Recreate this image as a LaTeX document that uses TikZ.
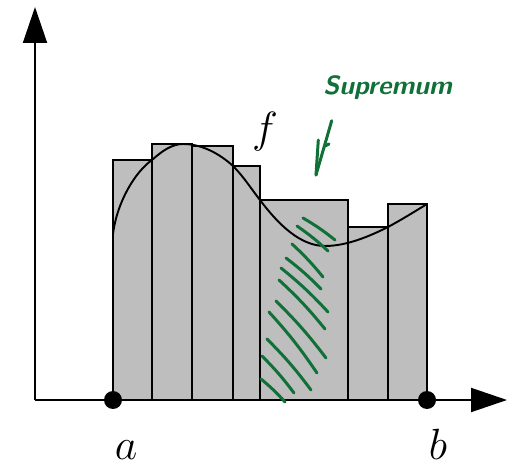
\documentclass[tikz,border=0pt]{standalone}
\usepackage{xcolor}
\usepackage{tikz}
\usetikzlibrary{arrows.meta, positioning}

\definecolor{barfill}{RGB}{190,190,190}
\definecolor{penink}{RGB}{16,112,56}

\begin{document}
\begin{tikzpicture}[
    x=0.02cm, y=-0.02cm,
    axis/.style={line width=1.1pt, -{Triangle[length=0.72cm, width=0.48cm]}},
    bar/.style={draw, line width=1.1pt, fill=barfill},
    graph/.style={line width=1.1pt},
    endpt/.style={circle, fill=black, inner sep=0pt, minimum size=0.36cm},
    lbl/.style={font=\fontsize{28}{32}\selectfont, anchor=base},
    pen/.style={penink, line width=1.7pt, line cap=round, line join=round}
]
\useasboundingbox (0,0) rectangle (513,465);

% Bars
\foreach \l/\r/\t in {113/152/160, 152/192/144, 192/233/146, 233/260/166,
                       260/348/200, 348/388/227, 388/427/204}
    \draw[bar] (\l,400) rectangle (\r,\t);

% Curve
\draw[graph] (113,234) .. controls (117,202) and (135,172) .. (152,160)
    .. controls (162,151) and (172,144) .. (183,144)
    .. controls (203,144) and (221,155) .. (233,166)
    .. controls (244,177) and (252,190) .. (260,200)
    .. controls (278,224) and (300,246) .. (325,246)
    .. controls (347,246) and (370,236) .. (388,227)
    .. controls (401,220) and (414,212) .. (427,204);

% Axes
\coordinate (origin) at (35,400);
\coordinate (xend) at (507,400);
\coordinate (yend) at (35,7);
\draw[axis] (origin) -- (xend);
\draw[axis] (origin) -- (yend);

% Nodes
\node[endpt] (adot) at (113,400) {};
\node[endpt] (bdot) at (427,400) {};
\node[lbl] (alabel) at (126,459) {$a$};
\node[lbl] (blabel) at (438,459) {$b$};
\node[lbl] (flabel) at (265,143) {$f$};
\node[penink, anchor=base west, inner sep=0pt,
      font=\fontsize{15}{18}\selectfont\sffamily\bfseries\itshape] (suplabel) at (323,95) {Supremum};

% Hand marks
\coordinate (tip) at (316,175);
\draw[pen] (331.7,120.7) -- (tip);
\draw[pen] (318.3,140) -- (tip);
\draw[pen] (325,146) -- (329,144);
\foreach \sx/\sy/\ex/\ey in {303/218/335/240, 297/226/328/251, 292/244/323/277,
                             286/258/321/289, 281/268/328/312, 279/280/325/329,
                             276/301/326/358, 269/312/317/373, 267/339/311/390,
                             262/356/294/393, 261/379/285/402}
    \draw[pen] (\sx,\sy) to[bend left=4] (\ex,\ey);

\end{tikzpicture}
\end{document}
